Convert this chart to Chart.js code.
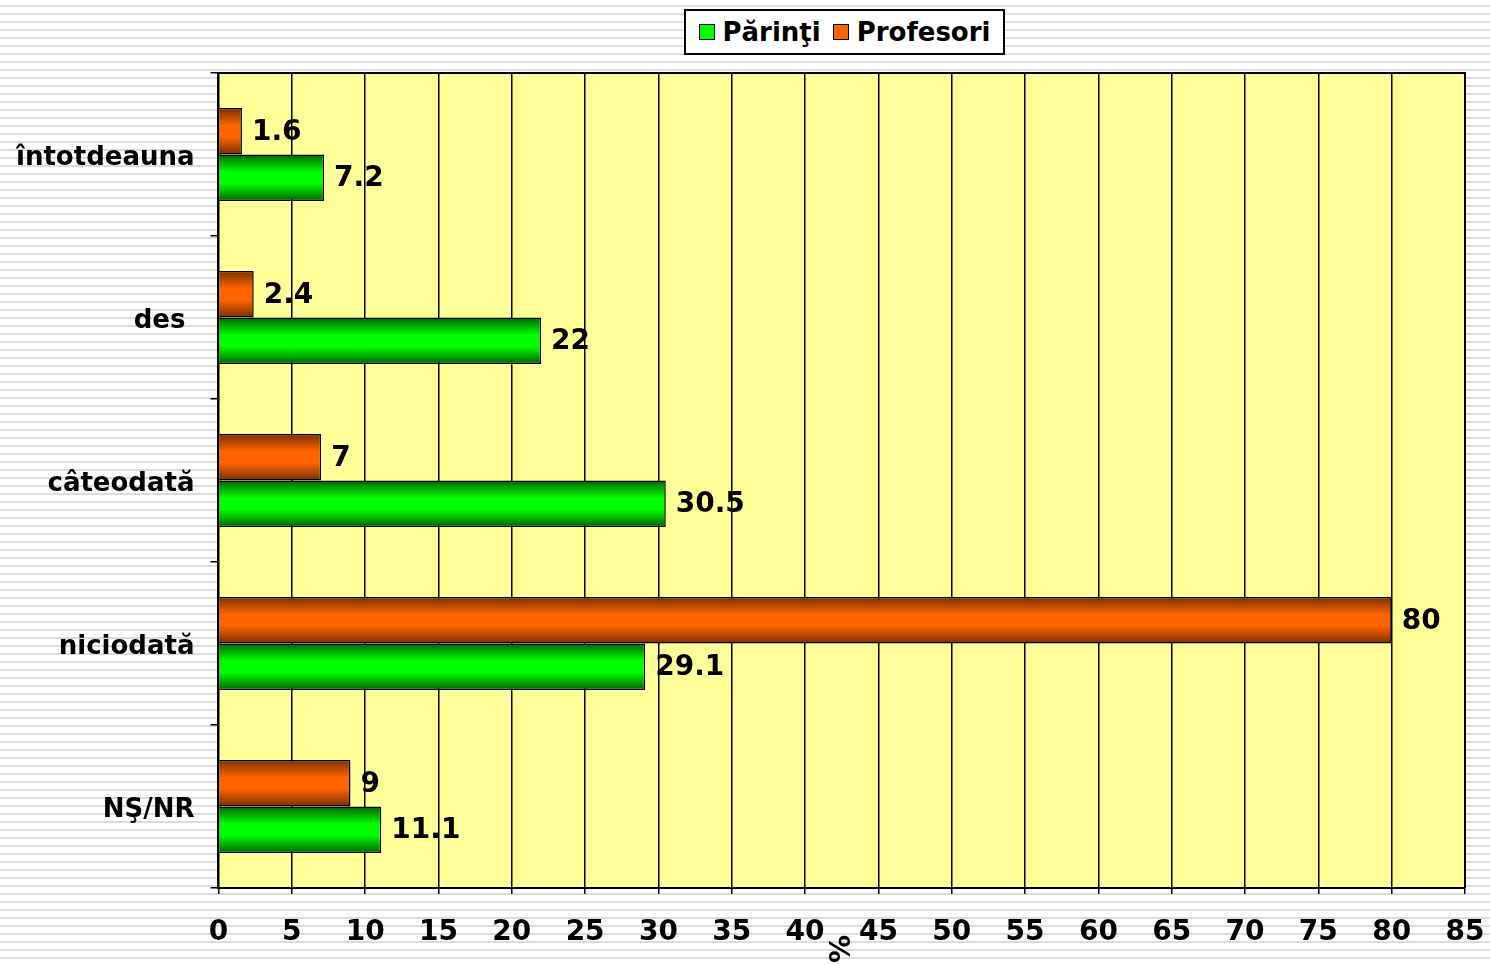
<!DOCTYPE html>
<html>
<head>
<meta charset="utf-8">
<script src="https://cdn.jsdelivr.net/npm/chart.js@4"></script>
<style>
  html, body { margin: 0; padding: 0; }
  body {
    width: 1490px; height: 965px; overflow: hidden; position: relative;
    background: repeating-linear-gradient(to bottom, #fff 0px, #fff 5px, #dcdcdc 5px, #dcdcdc 7px, #fff 7px, #fff 8px);
    font-family: "DejaVu Sans", Verdana, sans-serif;
  }
  #wrap { position: absolute; left: 0; top: 0; width: 1490px; height: 965px; }
  #legend {
    position: absolute; left: 684px; top: 9px; height: 46px; width: 321px;
    box-sizing: border-box; border: 2px solid #000; background: #fff;
    display: flex; align-items: center; justify-content: center; gap: 12px;
    font-weight: bold; font-size: 26px; color: #000;
  }
  #legend .item { display: flex; align-items: center; gap: 8px; }
  #legend .box { width: 14px; height: 14px; border: 1.5px solid #000; }
</style>
</head>
<body>
<div id="wrap"><canvas id="chart"></canvas></div>
<div id="legend"></div>
<script>
// ===== DATA =====
let categories = ["întotdeauna", "des ", "câteodată", "niciodată", "NŞ/NR"];
let parinti = [7.2, 22, 30.5, 29.1, 11.1];
let profesori = [1.6, 2.4, 7, 80, 9];
let xMin = 0, xMax = 85, xStep = 5;

// ===== COLOURS =====
let greenEdge = "#006400", greenMid = "#00ff00";
let orangeEdge = "#7a2e00", orangeMid = "#ff6600";
let FONT = "'DejaVu Sans', Verdana, sans-serif";

// ===== PLUGINS =====
let plotBg = {
  id: "plotBg",
  beforeDraw(chart) {
    let { ctx, chartArea: a } = chart;
    ctx.save();
    ctx.fillStyle = "#ffff99";
    ctx.fillRect(a.left, a.top, a.right - a.left, a.bottom - a.top);
    ctx.restore();
  },
  afterDraw(chart) {
    let { ctx, chartArea: a } = chart;
    ctx.save();
    ctx.strokeStyle = "#000";
    ctx.lineWidth = 2;
    ctx.beginPath();
    ctx.moveTo(a.left, a.top);
    ctx.lineTo(a.right, a.top);
    ctx.lineTo(a.right, a.bottom);
    ctx.stroke();
    // rotated "%" axis title
    ctx.fillStyle = "#000";
    ctx.font = "bold 28px " + FONT;
    ctx.translate(843, 949);
    ctx.rotate(-Math.PI / 2);
    ctx.textAlign = "center";
    ctx.textBaseline = "middle";
    ctx.fillText("%", 0, 0);
    ctx.restore();
  }
};

let barGradient = {
  id: "barGradient",
  beforeDatasetsDraw(chart) {
    let ctx = chart.ctx;
    chart.data.datasets.forEach((ds, i) => {
      let meta = chart.getDatasetMeta(i);
      meta.data.forEach(el => {
        let p = el.getProps(["y", "height"], true);
        let top = p.y - p.height / 2;
        let g = ctx.createLinearGradient(0, top, 0, top + p.height);
        g.addColorStop(0, ds.edge);
        g.addColorStop(0.38, ds.mid);
        g.addColorStop(0.62, ds.mid);
        g.addColorStop(1, ds.edge);
        try { el.options.backgroundColor = g; } catch (e) {}
      });
    });
  }
};

let valueLabels = {
  id: "valueLabels",
  afterDatasetsDraw(chart) {
    let ctx = chart.ctx;
    ctx.save();
    ctx.fillStyle = "#000";
    ctx.font = "bold 28px " + FONT;
    ctx.textAlign = "left";
    ctx.textBaseline = "middle";
    chart.data.datasets.forEach((ds, i) => {
      chart.getDatasetMeta(i).data.forEach((el, j) => {
        let p = el.getProps(["x", "y"], true);
        ctx.fillText(String(ds.data[j]), p.x + 10, p.y + 1);
      });
    });
    ctx.restore();
  }
};

// ===== CHART =====
let chart = new Chart(document.getElementById("chart"), {
  type: "bar",
  data: {
    labels: categories,
    datasets: [
      { label: "Profesori", data: profesori, edge: orangeEdge, mid: orangeMid,
        backgroundColor: () => orangeMid, borderColor: "#000", borderWidth: 1.5 },
      { label: "Părinţi", data: parinti, edge: greenEdge, mid: greenMid,
        backgroundColor: () => greenMid, borderColor: "#000", borderWidth: 1.5 }
    ]
  },
  options: {
    indexAxis: "y",
    responsive: true,
    maintainAspectRatio: false,
    animation: false,
    datasets: { bar: { categoryPercentage: 0.57, barPercentage: 1 } },
    layout: { padding: { top: 73, right: 25, bottom: 0, left: 0 } },
    plugins: { legend: { display: false }, tooltip: { enabled: false } },
    scales: {
      x: {
        min: xMin, max: xMax,
        ticks: { stepSize: xStep, color: "#000", padding: 22,
                 font: { family: FONT, size: 28, weight: "bold" } },
        grid: { color: "#000", lineWidth: 1.5, tickLength: 6 },
        border: { color: "#000", width: 2 },
        afterFit(scale) {
          scale.height = 77;
          scale.paddingRight = 0;
        }
      },
      y: {
        ticks: { color: "#000", padding: 16, labelOffset: 4,
                 font: { family: FONT, size: 26, weight: "bold" } },
        grid: { color: "#000", lineWidth: 1.5, tickLength: 8, drawOnChartArea: false, offset: true },
        border: { color: "#000", width: 2 }
      }
    }
  },
  plugins: [plotBg, barGradient, valueLabels]
});

// ===== LEGEND (html) =====
let legend = document.getElementById("legend");
chart.data.datasets.slice().reverse().forEach(ds => {
  let item = document.createElement("div");
  item.className = "item";
  item.innerHTML = `<span class="box" style="background:${ds.mid}"></span><span>${ds.label}</span>`;
  legend.appendChild(item);
});
</script>
</body>
</html>
